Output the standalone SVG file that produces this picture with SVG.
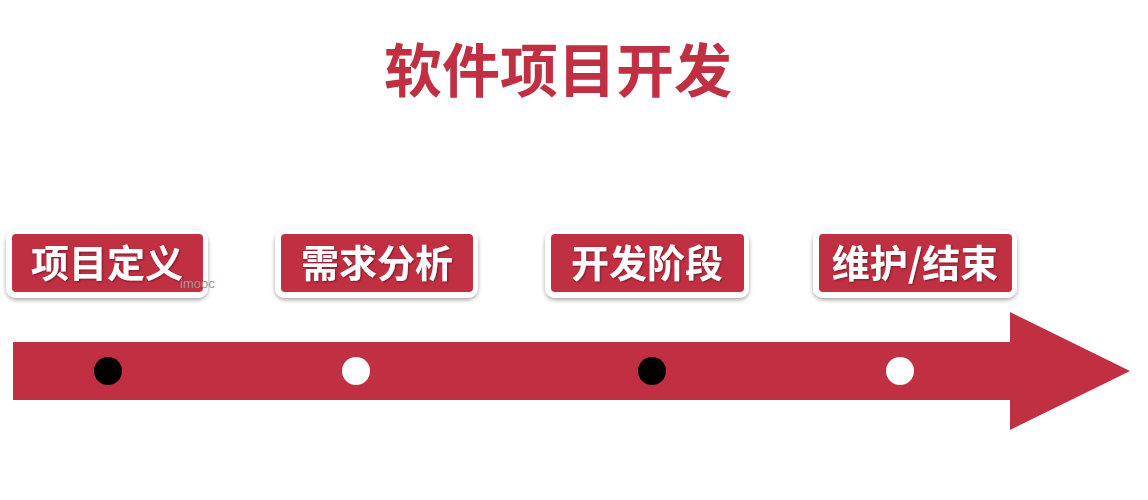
<svg xmlns="http://www.w3.org/2000/svg" width="1148" height="500" viewBox="0 0 1148 500">
<defs>
<style>
.title{font-family:"Noto Sans CJK SC","Noto Sans",sans-serif;font-weight:700;font-size:58px;fill:#C12F42;}
.lbl{font-family:"Noto Sans CJK SC","Noto Sans",sans-serif;font-weight:700;font-size:38px;fill:#ffffff;text-anchor:middle;}
.outer{fill:#ffffff;}
.inner{fill:#C12F42;}
.wm{font-family:"Liberation Sans",sans-serif;font-size:13px;fill:#9a9a9a;}
</style>
<filter id="sh" x="-10%" y="-20%" width="120%" height="150%">
<feDropShadow dx="0" dy="2" stdDeviation="2" flood-color="#000" flood-opacity="0.35"/>
</filter>
<filter id="ts" x="-10%" y="-20%" width="120%" height="150%">
<feDropShadow dx="1" dy="1" stdDeviation="0.8" flood-color="#000" flood-opacity="0.4"/>
</filter>
</defs>
<rect width="1148" height="500" fill="#ffffff"/>
<text class="title" x="558" y="92" text-anchor="middle">软件项目开发</text>
<g id="connectors">
<polygon points="13,342 1010,342 1010,312 1130,371 1010,430 1010,400 13,400" fill="#C12F42"/>
</g>
<g id="dot1"><circle cx="108" cy="371" r="14" fill="#000"/></g>
<g id="dot2"><circle cx="356" cy="371" r="14" fill="#fff"/></g>
<g id="dot3"><circle cx="652" cy="371" r="14" fill="#000"/></g>
<g id="dot4"><circle cx="900" cy="371" r="14" fill="#fff"/></g>
<g id="n1">
<rect class="outer" x="6" y="230" width="202" height="68" rx="10" filter="url(#sh)"/>
<rect class="inner" x="12" y="234" width="191" height="58" rx="4"/>
<text class="lbl" x="107" y="277" filter="url(#ts)">项目定义</text>
</g>
<g id="n2">
<rect class="outer" x="275" y="230" width="203" height="68" rx="10" filter="url(#sh)"/>
<rect class="inner" x="281" y="234" width="192" height="58" rx="4"/>
<text class="lbl" x="377" y="277" filter="url(#ts)">需求分析</text>
</g>
<g id="n3">
<rect class="outer" x="545" y="230" width="204" height="68" rx="10" filter="url(#sh)"/>
<rect class="inner" x="551" y="234" width="193" height="58" rx="4"/>
<text class="lbl" x="647" y="277" filter="url(#ts)">开发阶段</text>
</g>
<g id="n4">
<rect class="outer" x="813" y="230" width="204" height="68" rx="10" filter="url(#sh)"/>
<rect class="inner" x="819" y="234" width="193" height="58" rx="4"/>
<text class="lbl" x="915" y="277" filter="url(#ts)">维护/结束</text>
</g>
<text class="wm" x="180" y="288">imooc</text>
</svg>
